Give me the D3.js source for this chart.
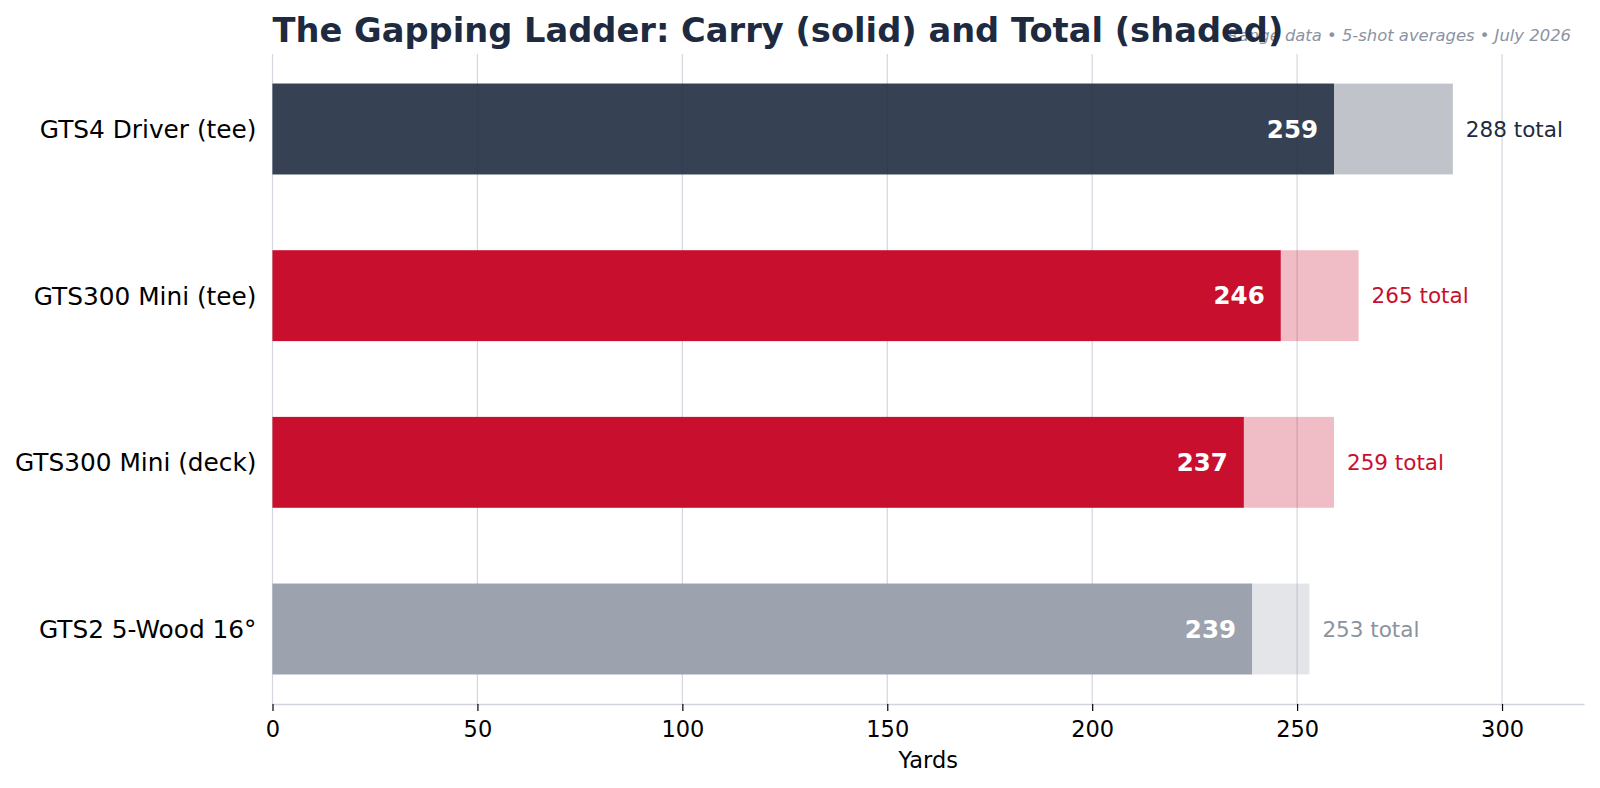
<!DOCTYPE html>
<html>
<head>
<meta charset="utf-8">
<script src="https://cdn.jsdelivr.net/npm/d3@7"></script>
<style>
  body { margin: 0; background: #fff; }
  text { font-family: "DejaVu Sans", sans-serif; }
</style>
</head>
<body>
<div id="chart"></div>
<script>
// Data
const clubs = ["GTS4 Driver (tee)", "GTS300 Mini (tee)", "GTS300 Mini (deck)", "GTS2 5-Wood 16°"];
const carry = [259, 246, 237, 239];
const total = [288, 265, 259, 253];
const xTicks = [0, 50, 100, 150, 200, 250, 300];

// Styles per club
const barColors = ["#1e2a40", "#c8102e", "#c8102e", "#9ca3af"];
const carryOpacity = [0.85, 1, 1, 1];
const labelColors = ["#1e2a40", "#c8102e", "#c8102e", "#8b93a1"];

const W = 1600, H = 788;
const margin = { top: 54, right: 16, bottom: 84, left: 272.5 };

const svg = d3.select("#chart")
  .append("svg")
    .attr("width", W)
    .attr("height", H);

const x = d3.scaleLinear()
  .domain([0, 320])
  .range([margin.left, W - margin.right]);

const y = d3.scaleLinear()
  .domain([-0.45, 3.45])
  .range([margin.top, H - margin.bottom]);

const bh = (y(1) - y(0)) * 0.545;

// Grid
svg.append("g")
  .selectAll("line")
  .data(xTicks)
  .enter().append("line")
    .attr("x1", d => x(d)).attr("x2", d => x(d))
    .attr("y1", margin.top).attr("y2", H - margin.bottom)
    .attr("stroke", "#d3d6de")
    .attr("stroke-width", 1.2);

// Total (shaded) bars
svg.selectAll(".total")
  .data(clubs)
  .enter().append("rect")
    .attr("class", "total")
    .attr("x", x(0))
    .attr("y", (d, i) => y(i) - bh / 2)
    .attr("width", (d, i) => x(total[i]) - x(0))
    .attr("height", bh)
    .attr("fill", (d, i) => barColors[i])
    .attr("fill-opacity", 0.28);

// Carry (solid) bars
svg.selectAll(".carry")
  .data(clubs)
  .enter().append("rect")
    .attr("class", "carry")
    .attr("x", x(0))
    .attr("y", (d, i) => y(i) - bh / 2)
    .attr("width", (d, i) => x(carry[i]) - x(0))
    .attr("height", bh)
    .attr("fill", (d, i) => barColors[i])
    .attr("fill-opacity", (d, i) => carryOpacity[i]);

// Carry labels inside bars
svg.selectAll(".carry-label")
  .data(clubs)
  .enter().append("text")
    .attr("x", (d, i) => x(carry[i]) - 16)
    .attr("y", (d, i) => y(i))
    .attr("dy", "0.36em")
    .attr("text-anchor", "end")
    .attr("fill", "#fff")
    .style("font-size", "24.5px")
    .style("font-weight", "bold")
    .text((d, i) => carry[i]);

// Total labels
svg.selectAll(".total-label")
  .data(clubs)
  .enter().append("text")
    .attr("x", (d, i) => x(total[i]) + 13)
    .attr("y", (d, i) => y(i))
    .attr("dy", "0.36em")
    .attr("fill", (d, i) => labelColors[i])
    .style("font-size", "21.5px")
    .text((d, i) => total[i] + " total");

// Category labels
svg.selectAll(".cat")
  .data(clubs)
  .enter().append("text")
    .attr("x", margin.left - 16)
    .attr("y", (d, i) => y(i))
    .attr("dy", "0.36em")
    .attr("text-anchor", "end")
    .attr("fill", "#000")
    .style("font-size", "24.8px")
    .text(d => d);

// X axis
const xAxis = svg.append("g")
  .attr("transform", `translate(0, ${H - margin.bottom})`)
  .call(d3.axisBottom(x).tickValues(xTicks).tickSize(7).tickPadding(10).tickSizeOuter(0));
xAxis.select(".domain").attr("stroke", "#d0d4de").attr("stroke-width", 1.5);
xAxis.selectAll(".tick line").attr("stroke", "#000").attr("stroke-width", 1.2);
xAxis.selectAll(".tick text")
  .attr("fill", "#000")
  .style("font-size", "22.5px")
  .style("font-family", "DejaVu Sans");

// X label
svg.append("text")
  .attr("x", (x(0) + x(320)) / 2)
  .attr("y", 768)
  .attr("text-anchor", "middle")
  .attr("fill", "#000")
  .style("font-size", "22.5px")
  .text("Yards");

// Subtitle (sits under the title, as in the source)
svg.append("text")
  .attr("x", 1571)
  .attr("y", 41)
  .attr("text-anchor", "end")
  .attr("fill", "#8b93a1")
  .style("font-size", "16.4px")
  .style("font-style", "italic")
  .text("Range data • 5-shot averages • July 2026");

// Title
svg.append("text")
  .attr("x", margin.left)
  .attr("y", 42)
  .attr("fill", "#1e2a40")
  .style("font-size", "33.7px")
  .style("font-weight", "bold")
  .text("The Gapping Ladder: Carry (solid) and Total (shaded)");
</script>
</body>
</html>
